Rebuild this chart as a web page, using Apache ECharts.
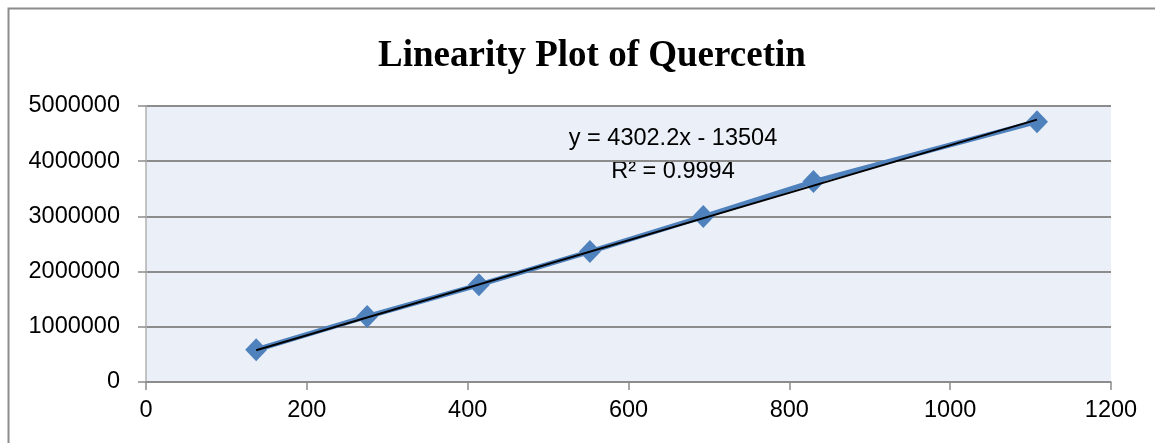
<!DOCTYPE html>
<html>
<head>
<meta charset="utf-8">
<script src="https://cdn.jsdelivr.net/npm/echarts@6/dist/echarts.min.js"></script>
<style>
  html, body { margin: 0; padding: 0; background: #fff; }
  #echarts_main { width: 1155px; height: 443px; }
</style>
</head>
<body>
<div id="echarts_main"></div>
<script>
// data
var concentration = [137, 275, 414, 552, 693, 830, 1108];
var peakArea = [584000, 1187000, 1761000, 2363000, 2997000, 3630000, 4716000];
// linear trendline as printed on the chart
var slope = 4302.2;
var intercept = -13504;
var equationText = ['y = 4302.2x - 13504', 'R² = 0.9994'];

function refreshChart() {
  var myChart = echarts.init(document.getElementById('echarts_main'));
  var points = concentration.map(function (x, i) { return [x, peakArea[i]]; });
  var xMin = Math.min.apply(null, concentration);
  var xMax = Math.max.apply(null, concentration);
  var trend = [[xMin, slope * xMin + intercept], [xMax, slope * xMax + intercept]];
  var plain = function (v) { return String(v); };

  myChart.setOption({
    animation: false,
    title: {
      text: 'Linearity Plot of Quercetin',
      left: 373,
      top: 33,
      textStyle: {
        fontFamily: 'Liberation Serif',
        fontWeight: 'bold',
        fontSize: 37,
        color: '#000'
      }
    },
    grid: {
      left: 146,
      right: 44,
      top: 106,
      bottom: 61,
      show: true,
      backgroundColor: '#EBF0F8',
      borderWidth: 0
    },
    xAxis: {
      type: 'value',
      min: 0,
      max: 1200,
      interval: 200,
      axisLine: { show: true, onZero: false, lineStyle: { color: '#8c8c8c', width: 1.5 } },
      axisTick: { show: true, length: 8, lineStyle: { color: '#8c8c8c', width: 1.5 } },
      axisLabel: { margin: 17, formatter: plain, fontFamily: 'Liberation Sans', fontSize: 23.5, color: '#000' },
      splitLine: { show: false }
    },
    yAxis: {
      type: 'value',
      min: 0,
      max: 5000000,
      interval: 1000000,
      axisLine: { show: true, onZero: false, lineStyle: { color: '#b0b0b0', width: 1.5 } },
      axisTick: { show: true, length: 8, lineStyle: { color: '#8c8c8c', width: 1.5 } },
      axisLabel: { margin: 26, formatter: plain, fontFamily: 'Liberation Sans', fontSize: 23.5, color: '#000' },
      splitLine: { show: true, lineStyle: { color: '#8c8c8c', width: 2 } }
    },
    series: [
      {
        name: 'Quercetin',
        type: 'line',
        data: points,
        symbol: 'diamond',
        symbolSize: [22, 23],
        lineStyle: { color: '#4F81BD', width: 5 },
        itemStyle: { color: '#4F81BD' },
        z: 2
      },
      {
        name: 'Linear trendline',
        type: 'line',
        data: trend,
        symbol: 'none',
        lineStyle: { color: '#000', width: 2 },
        z: 3
      }
    ],
    graphic: [
      {
        type: 'text',
        x: 673,
        y: 122,
        style: {
          text: equationText.join('\n'),
          fontFamily: 'Liberation Sans',
          fontSize: 23.5,
          lineHeight: 33,
          fill: '#000',
          align: 'center'
        }
      },
      {
        type: 'polyline',
        shape: { points: [[8.5, 443], [8.5, 8.5], [1155, 8.5]] },
        style: { stroke: '#8c8c8c', lineWidth: 2, fill: null }
      }
    ]
  });
}
refreshChart();
</script>
</body>
</html>
